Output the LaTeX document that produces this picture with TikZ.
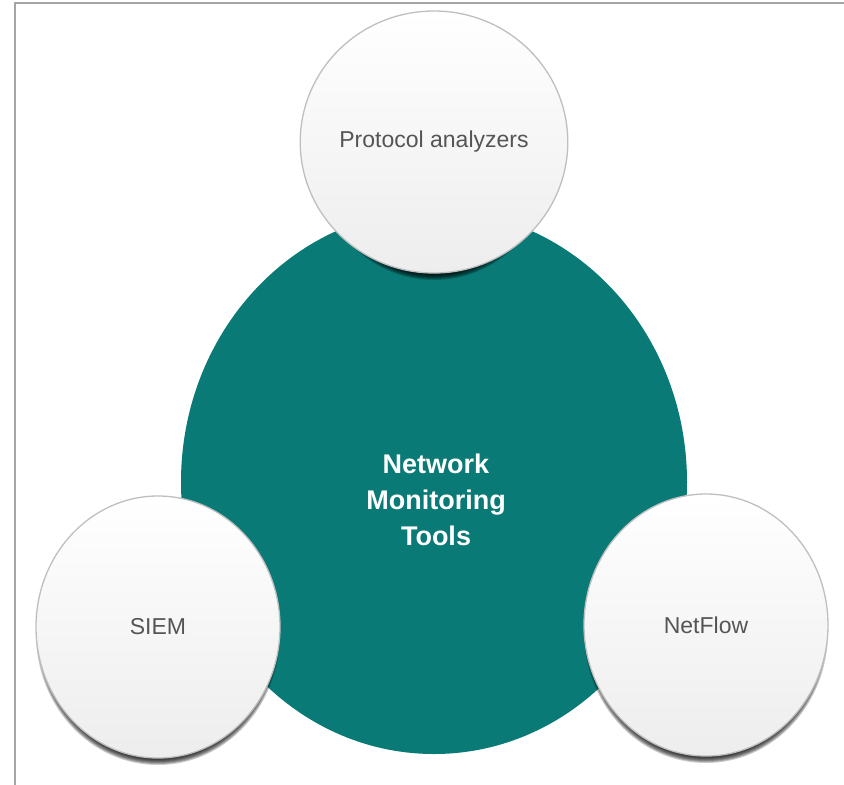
\documentclass[tikz,border=0pt]{standalone}
\usepackage{fontspec}
\setmainfont{Liberation Sans}
\usetikzlibrary{shapes.geometric}
\definecolor{tealcore}{HTML}{097A75}
\definecolor{labelgray}{HTML}{555555}
\tikzset{
  bubble/.style={ellipse, minimum width=244pt, minimum height=262pt, inner sep=0pt,
    top color=white, bottom color=black!7, draw=black!25, line width=1.3pt,
    text=labelgray, font=\fontsize{23}{28}\selectfont},
  corelabel/.style={align=center, text=white, font=\bfseries\fontsize{27}{36}\selectfont},
  frameline/.style={draw=black!35, line width=1.5pt}
}
\newcommand\mybubble[4]{%
  \foreach \k in {0,...,7} {\fill[black, opacity=0.2] (#2,#3+7) ellipse [x radius=122-\k, y radius=131-\k];}
  \node[bubble] (#1) at (#2,#3) {#4};
}
\begin{document}
\begin{tikzpicture}[x=1pt,y=-1pt]
\useasboundingbox (0,0) rectangle (844,785);
\fill[white] (0,0) rectangle (844,785);
\coordinate (fbl) at (15,785);
\coordinate (ftl) at (15,3);
\coordinate (ftr) at (844,3);
\draw[frameline] (fbl) -- (ftl) -- (ftr);
\fill[tealcore] (434,482) ellipse [x radius=253, y radius=272];
\node[corelabel] (core) at (436,500) {Network\\Monitoring\\Tools};
\mybubble{proto}{434}{142}{Protocol analyzers}
\mybubble{siem}{158}{627}{SIEM}
\mybubble{netflow}{706}{625}{NetFlow}
\end{tikzpicture}
\end{document}
